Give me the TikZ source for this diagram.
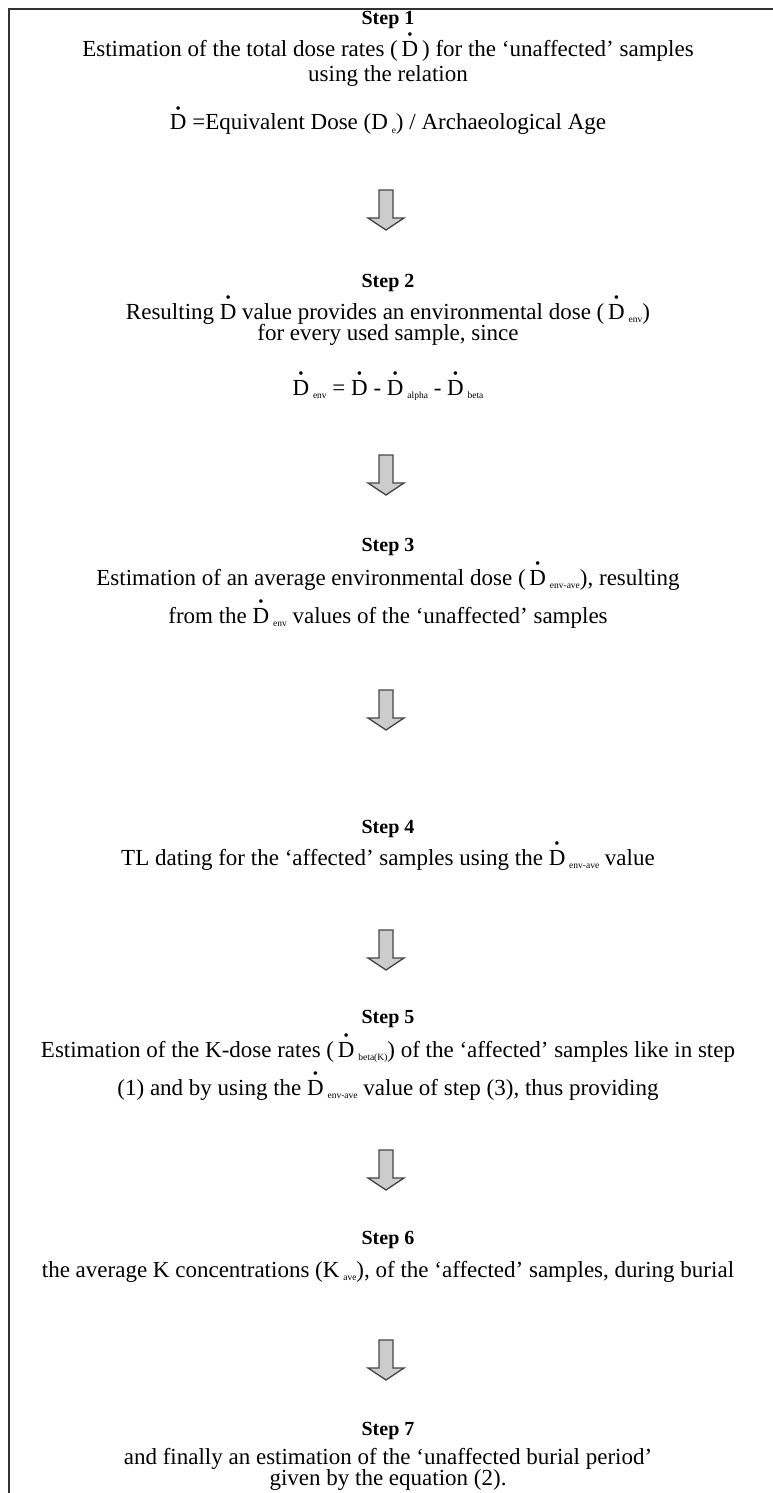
\documentclass[tikz,border=0pt]{standalone}
\usepackage{fontspec}
\setmainfont{Liberation Serif}
\usetikzlibrary{calc}
\newcommand\Dt{\mbox{\ooalign{D\cr\hidewidth\smash{\raisebox{17pt}{\fontsize{15}{15}\selectfont\textbullet}}\hidewidth\cr}}}
\newcommand\sbs[1]{\,\raisebox{-3pt}{\fontsize{9.5}{9.5}\selectfont #1}}
\newcommand\blockarrow[1]{%
  \draw[barrow] ($(#1)+(-7,0)$) -- ($(#1)+(-7,28)$) -- ($(#1)+(-18,28)$) -- ($(#1)+(0,40)$)
   -- ($(#1)+(18,28)$) -- ($(#1)+(7,28)$) -- ($(#1)+(7,0)$) -- cycle;}
\begin{document}
\begin{tikzpicture}[x=1pt,y=-1pt,
  txt/.style={inner sep=0pt,anchor=base,font=\fontsize{23}{26}\selectfont},
  stephead/.style={inner sep=0pt,anchor=base,font=\fontsize{20}{22}\selectfont\bfseries},
  barrow/.style={fill=gray!40,draw=gray!55!black,line width=1.3pt,line join=miter}]
\useasboundingbox (0,0) rectangle (773,1493);
\fill[white] (0,0) rectangle (773,1493);
\draw[line width=1.5pt, black!80] (9,1500) -- (9,9) -- (780,9);

% Step 1
\node[stephead] (s1) at (388,25) {Step 1};
\node[txt] (s1a) at (388,57) {Estimation of the total dose rates (\,\Dt\,) for the ‘unaffected’ samples};
\node[txt] (s1b) at (388,82) {using the relation};
\node[txt] (s1c) at (388,130) {\Dt{} =Equivalent Dose (D\sbs{e}) / Archaeological Age};
\coordinate (a1) at (386,190);
\blockarrow{a1}

% Step 2
\node[stephead] (s2) at (388,287) {Step 2};
\node[txt] (s2a) at (388,319) {Resulting \Dt{} value provides an environmental dose (\,\Dt\sbs{env})};
\node[txt] (s2b) at (388,340) {for every used sample, since};
\node[txt] (s2c) at (388,395) {\Dt\sbs{env} = \Dt{} - \Dt\sbs{alpha} - \Dt\sbs{beta}};
\coordinate (a2) at (386,455);
\blockarrow{a2}

% Step 3
\node[stephead] (s3) at (388,551) {Step 3};
\node[txt] (s3a) at (388,585) {Estimation of an average environmental dose (\,\Dt\sbs{env-ave}), resulting};
\node[txt] (s3b) at (388,623) {from the \Dt\sbs{env} values of the ‘unaffected’ samples};
\coordinate (a3) at (386,690);
\blockarrow{a3}

% Step 4
\node[stephead] (s4) at (388,833) {Step 4};
\node[txt] (s4a) at (388,865) {TL dating for the ‘affected’ samples using the \Dt\sbs{env-ave} value};
\coordinate (a4) at (386,930);
\blockarrow{a4}

% Step 5
\node[stephead] (s5) at (388,1023) {Step 5};
\node[txt] (s5a) at (388,1057) {Estimation of the K-dose rates (\,\Dt\sbs{beta(K)}) of the ‘affected’ samples like in step};
\node[txt] (s5b) at (388,1095) {(1) and by using the \Dt\sbs{env-ave} value of step (3), thus providing};
\coordinate (a5) at (386,1150);
\blockarrow{a5}

% Step 6
\node[stephead] (s6) at (388,1244) {Step 6};
\node[txt] (s6a) at (388,1277) {the average K concentrations (K\sbs{ave}), of the ‘affected’ samples, during burial};
\coordinate (a6) at (386,1340);
\blockarrow{a6}

% Step 7
\node[stephead] (s7) at (388,1435) {Step 7};
\node[txt] (s7a) at (388,1464) {and finally an estimation of the ‘unaffected burial period’};
\node[txt] (s7b) at (388,1485) {given by the equation (2).};
\end{tikzpicture}
\end{document}
